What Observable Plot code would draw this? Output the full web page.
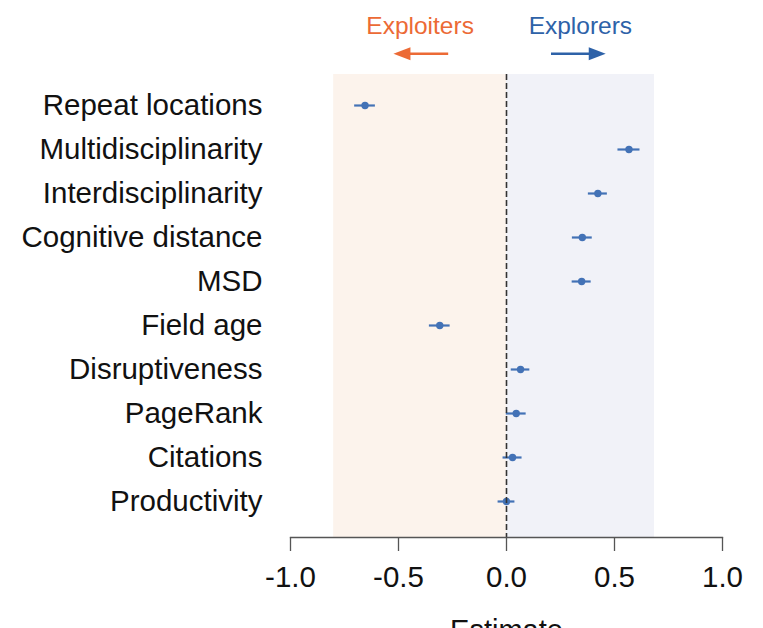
<!DOCTYPE html>
<html>
<head>
<meta charset="utf-8">
<script src="https://cdn.jsdelivr.net/npm/d3@7"></script>
<script src="https://cdn.jsdelivr.net/npm/@observablehq/plot@0.6"></script>
<style>
  html, body { margin: 0; padding: 0; background: #ffffff; overflow: hidden; }
  #chart svg { display: block; }
</style>
</head>
<body>
<div id="chart"></div>
<script>
// ---- data ----
const categories = ["Repeat locations", "Multidisciplinarity", "Interdisciplinarity", "Cognitive distance", "MSD", "Field age", "Disruptiveness", "PageRank", "Citations", "Productivity"];
const estimates = [-0.655, 0.567, 0.423, 0.351, 0.348, -0.309, 0.065, 0.045, 0.028, 0.000];
const ciHalf = [0.048, 0.051, 0.044, 0.046, 0.044, 0.048, 0.043, 0.046, 0.044, 0.039];
const xTicks = [-1.0, -0.5, 0.0, 0.5, 1.0];
const exploitersRange = [-0.80, 0.0];
const explorersRange = [0.0, 0.685];
const groupLabels = ["Exploiters", "Explorers"];
const groupLabelX = [-0.40, 0.342];
const groupArrowFrom = [-0.27, 0.206];
const groupArrowTo = [-0.524, 0.46];

const rows = categories.map((c, i) => ({
  name: c, est: estimates[i], lo: estimates[i] - ciHalf[i], hi: estimates[i] + ciHalf[i]
}));

const FONT = "'Liberation Sans', Arial, Helvetica, sans-serif";
const ORANGE = "#ec6a35";
const BLUE = "#2e62a8";
const POINT = "#4372b6";
const W = 763, ML = 290, MR = 41;

// arrowhead symbol (pointing right)
const headSymbol = {
  draw(ctx) {
    ctx.moveTo(8.5, 0);
    ctx.lineTo(-8.5, -6.5);
    ctx.lineTo(-8.5, 6.5);
    ctx.closePath();
  }
};

const groups = groupLabels.map((g, i) => ({
  label: g, x: groupLabelX[i], from: groupArrowFrom[i], to: groupArrowTo[i],
  color: i === 0 ? ORANGE : BLUE, rot: i === 0 ? 180 : 0
}));

// ---- header (labels and arrows) ----
const header = Plot.plot({
  width: W, height: 74,
  marginLeft: ML, marginRight: MR, marginTop: 0, marginBottom: 0,
  x: {domain: [-1, 1]},
  y: {domain: [0, 1]},
  axis: null,
  style: {fontFamily: FONT, background: "transparent"},
  marks: [
    Plot.text(groups, {x: "x", y: 0.655, text: "label", fill: "color", fontSize: 24.5}),
    Plot.link(groups, {x1: "from", x2: (d) => d.to + (d.to < d.from ? 0.07 : -0.07), y1: 0.28, y2: 0.28, stroke: "color", strokeWidth: 2.4}),
    Plot.dot(groups, {x: (d) => d.to + (d.to < d.from ? 0.04 : -0.04), y: 0.28, symbol: headSymbol, fill: "color", stroke: "none", r: 6, rotate: "rot"})
  ]
});

// ---- main chart ----
const main = Plot.plot({
  width: W, height: 554,
  marginLeft: ML, marginRight: MR, marginTop: 0, marginBottom: 91,
  x: {domain: [-1, 1]},
  y: {type: "point", domain: categories, padding: 0, insetTop: 30, insetBottom: 35},
  style: {fontFamily: FONT, background: "transparent", color: "#111"},
  marks: [
    Plot.rectX([exploitersRange], {x1: (d) => d[0], x2: (d) => d[1], fill: "#fcf3ec"}),
    Plot.rectX([explorersRange], {x1: (d) => d[0], x2: (d) => d[1], fill: "#f1f2f8"}),
    Plot.ruleY(rows, {y: "name", x1: "lo", x2: "hi", stroke: POINT, strokeWidth: 2.2}),
    Plot.dot(rows, {x: "est", y: "name", r: 3.7, fill: POINT, stroke: "none"}),
    Plot.ruleX([0], {stroke: "#333", strokeWidth: 1.6, strokeDasharray: "6,3"}),
    Plot.frame({anchor: "bottom", stroke: "#555", strokeWidth: 1.3}),
    Plot.axisX({ticks: xTicks, tickFormat: (d) => d.toFixed(1), tickSize: 14, tickPadding: 15, fontSize: 29.5, stroke: "#555", strokeWidth: 1.3, fill: "#111", label: null}),
    Plot.axisY({tickSize: 0, tickPadding: 28, fontSize: 29.5, fill: "#111", label: null}),
    Plot.text(["Estimate"], {frameAnchor: "bottom", lineAnchor: "top", dy: 82, text: (d) => d, fontSize: 29, fill: "#111"})
  ]
});

const el = document.getElementById("chart");
el.appendChild(header);
el.appendChild(main);
</script>
</body>
</html>
